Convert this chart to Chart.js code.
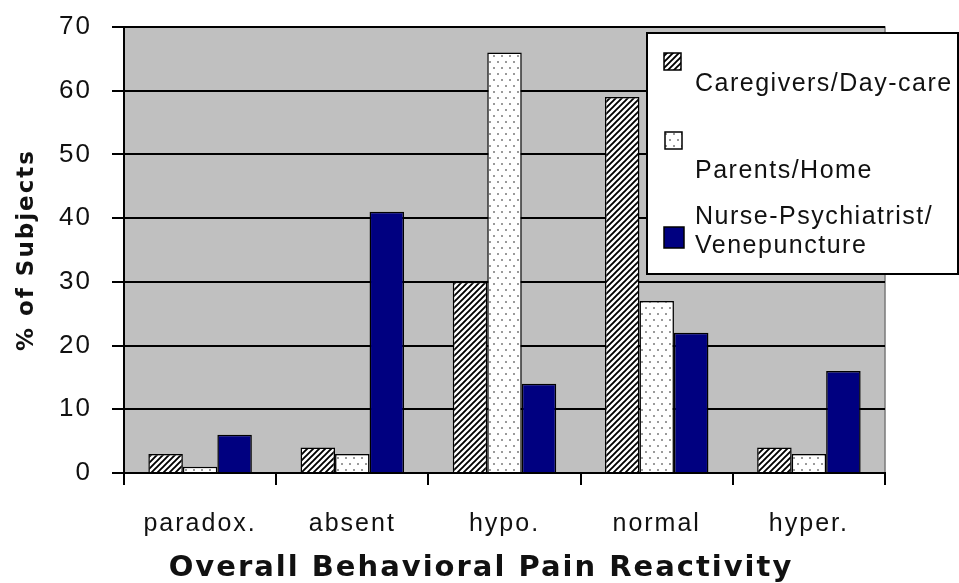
<!DOCTYPE html>
<html>
<head>
<meta charset="utf-8">
<script src="https://cdn.jsdelivr.net/npm/chart.js@4.4.0/dist/chart.umd.min.js"></script>
<style>
  html, body { margin: 0; padding: 0; background: #fff; }
  #wrap { width: 959px; height: 583px; position: relative; }
</style>
</head>
<body>
<div id="wrap"><canvas id="myChart"></canvas></div>
<script>
const categories = ['paradox.', 'absent', 'hypo.', 'normal', 'hyper.'];
const caregivers = [3, 4, 30, 59, 4];
const parents = [1, 3, 66, 27, 3];
const nurse = [6, 41, 14, 22, 16];
const seriesNames = ['Caregivers/Day-care', 'Parents/Home', ['Nurse-Psychiatrist/', 'Venepuncture']];
const xTitle = 'Overall Behavioral Pain Reactivity';
const yTitle = '% of Subjects';
const yMax = 70;
const yStep = 10;

// diagonal hatch, black on white
function hatchPattern() {
    const s = 6;
    const c = document.createElement('canvas');
    c.width = s; c.height = s;
    const g = c.getContext('2d');
    g.fillStyle = '#fff';
    g.fillRect(0, 0, s, s);
    g.strokeStyle = '#000';
    g.lineWidth = 1.9;
    g.beginPath();
    g.moveTo(0, s); g.lineTo(s, 0);
    g.moveTo(-1, 1); g.lineTo(1, -1);
    g.moveTo(s - 1, s + 1); g.lineTo(s + 1, s - 1);
    g.stroke();
    return g.createPattern(c, 'repeat');
}

// small grey dots on white
function dotPattern() {
    const c = document.createElement('canvas');
    c.width = 8; c.height = 12;
    const g = c.getContext('2d');
    g.fillStyle = '#fff';
    g.fillRect(0, 0, 8, 12);
    g.fillStyle = '#9a9a9a';
    g.fillRect(1, 1, 2, 2);
    g.fillRect(5, 7, 2, 2);
    return g.createPattern(c, 'repeat');
}

const hatch = hatchPattern();
const dots = dotPattern();
const navy = '#000080';

const plotBg = {
    id: 'plotBg',
    beforeDraw(chart) {
        const { ctx, chartArea: a } = chart;
        ctx.letterSpacing = '2px';
        ctx.save();
        ctx.fillStyle = '#c0c0c0';
        ctx.fillRect(a.left, a.top, a.right - a.left, a.bottom - a.top);
        ctx.strokeStyle = '#7a7a7a';
        ctx.lineWidth = 1.5;
        ctx.strokeRect(a.left, a.top, a.right - a.left, a.bottom - a.top);
        ctx.restore();
    }
};

// x title centred on the whole picture, like the original
const bottomTitle = {
    id: 'bottomTitle',
    afterDraw(chart) {
        const ctx = chart.ctx;
        ctx.save();
        ctx.font = 'bold 29px "DejaVu Sans"';
        ctx.letterSpacing = '2px';
        ctx.fillStyle = '#111';
        ctx.textAlign = 'center';
        ctx.textBaseline = 'middle';
        ctx.fillText(xTitle, 481, 568);
        ctx.restore();
    }
};

const boxLegend = {
    id: 'boxLegend',
    afterDraw(chart) {
        const ctx = chart.ctx;
        ctx.save();
        ctx.fillStyle = '#fff';
        ctx.fillRect(647, 33, 311, 241);
        ctx.strokeStyle = '#000';
        ctx.lineWidth = 2;
        ctx.strokeRect(647, 33, 311, 241);

        const fills = [hatch, dots, navy];
        const sw = [[664, 53, 17, 17], [665, 132, 17, 17], [664, 227, 20, 21]];
        const lines = [[[seriesNames[0], 91]], [[seriesNames[1], 178]], [[seriesNames[2][0], 224], [seriesNames[2][1], 253]]];
        ctx.lineWidth = 1.5;
        ctx.font = '25px "Liberation Sans"';
        ctx.letterSpacing = '1.5px';
        ctx.textBaseline = 'alphabetic';
        for (let i = 0; i < 3; i++) {
            const [x, y, w, h] = sw[i];
            ctx.fillStyle = fills[i];
            ctx.fillRect(x, y, w, h);
            ctx.strokeRect(x, y, w, h);
            ctx.fillStyle = '#111';
            lines[i].forEach(([t, by]) => ctx.fillText(t, 695, by));
        }
        ctx.restore();
    }
};

const data = {
    labels: categories,
    datasets: [
        { label: 'Caregivers/Day-care', data: caregivers, backgroundColor: hatch },
        { label: 'Parents/Home', data: parents, backgroundColor: dots },
        { label: 'Nurse-Psychiatrist/Venepuncture', data: nurse, backgroundColor: navy }
    ].map(d => Object.assign(d, { borderColor: '#000', borderWidth: 1.5, categoryPercentage: 0.68, barPercentage: 1 }))
};

const config = {
    type: 'bar',
    data: data,
    plugins: [plotBg, bottomTitle, boxLegend],
    options: {
        responsive: true,
        maintainAspectRatio: false,
        animation: false,
        layout: { padding: { top: 27, right: 74, left: 0, bottom: 0 } },
        plugins: { legend: { display: false }, tooltip: { enabled: false } },
        scales: {
            x: {
                grid: { drawOnChartArea: false, drawTicks: true, tickLength: 12, color: '#000', lineWidth: 2 },
                border: { display: true, color: '#000', width: 2 },
                ticks: { font: { family: 'Liberation Sans', size: 25 }, color: '#111', padding: 24, maxRotation: 0, autoSkip: false },
                afterFit: s => { s.height = 110; }
            },
            y: {
                min: 0,
                max: yMax,
                grid: { color: '#000', lineWidth: 2, tickLength: 12, tickColor: '#000' },
                border: { display: true, color: '#000', width: 2 },
                ticks: { stepSize: yStep, font: { family: 'Liberation Sans', size: 26 }, color: '#111', padding: 20 },
                title: { display: true, text: yTitle, color: '#111',
                    font: { family: 'DejaVu Sans', weight: 'bold', size: 23 }, padding: { top: 13 } },
                afterFit: s => { s.width = 124; s.paddingTop = 0; s.paddingBottom = 0; }
            }
        }
    }
};

new Chart(document.getElementById('myChart'), config);
</script>
</body>
</html>
